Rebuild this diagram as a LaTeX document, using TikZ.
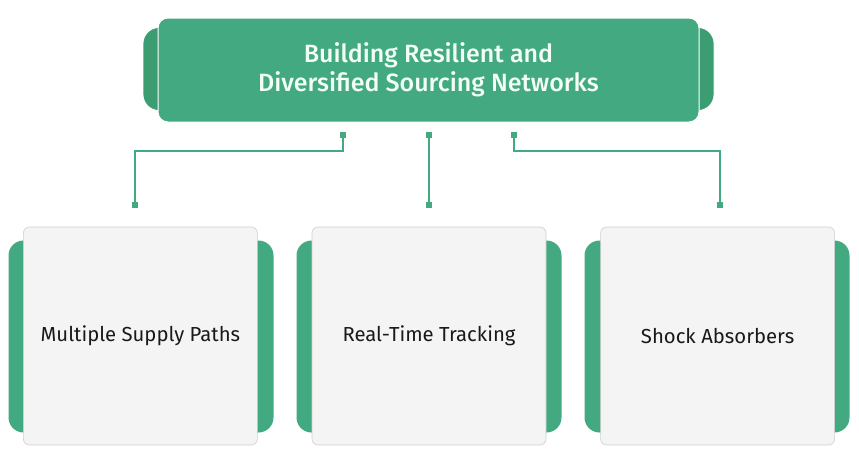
\documentclass[tikz,border=0pt]{standalone}
\usepackage{fontspec}
\setmainfont{Fira Sans}
\newfontfamily\medfont{Fira Sans Medium}
\usetikzlibrary{positioning}
\definecolor{leafgreen}{HTML}{43A981}
\definecolor{tabgreen}{HTML}{3C9D73}
\definecolor{cardgray}{HTML}{F4F4F4}
\definecolor{edgegray}{HTML}{CFCFCF}
\tikzset{
  headtab/.style={fill=tabgreen, draw=white, line width=0.8pt, rounded corners=16pt, minimum width=571pt, minimum height=83pt},
  headbox/.style={fill=leafgreen, draw=white, line width=1pt, rounded corners=10pt, minimum width=541pt, minimum height=104pt,
    text=white!95!green, align=center, font=\medfont\fontsize{25}{29}\selectfont},
  cardtab/.style={fill=leafgreen, rounded corners=15pt, minimum width=265pt, minimum height=192pt},
  card/.style={fill=cardgray, draw=edgegray, line width=0.6pt, rounded corners=6pt, minimum width=234pt, minimum height=218pt,
    text=black!90, font=\fontsize{20.3}{23}\selectfont},
  dot/.style={fill=leafgreen, minimum size=6pt, inner sep=0pt},
  link/.style={draw=leafgreen, line width=1.2pt}
}
\begin{document}
\begin{tikzpicture}[x=1pt,y=-1pt]
\useasboundingbox (0,0) rectangle (859,461);
% heading
\node[headtab] at (428.5,69) {};
\node[headbox] (head) at (428.5,70) {Building Resilient and\\Diversified Sourcing Networks};
% cards
\foreach \cx in {141,429,717} \node[cardtab] at (\cx,336.5) {};
\node[card] (track) at (429,336) {Real-Time Tracking};
\node[card, left=54pt of track] (paths) {Multiple Supply Paths};
\node[card, right=54pt of track] (shock) {Shock Absorbers};
% connectors
\node[dot] (s1) at (343,135) {}; \node[dot] (s2) at (429,135) {}; \node[dot] (s3) at (514,135) {};
\node[dot] (e1) at (135,205) {}; \node[dot] (e2) at (429,205) {}; \node[dot] (e3) at (720,205) {};
\draw[link] (s1) -- ++(0,16) -| (e1);
\draw[link] (s2) -- (e2);
\draw[link] (s3) -- ++(0,16) -| (e3);
\end{tikzpicture}
\end{document}
